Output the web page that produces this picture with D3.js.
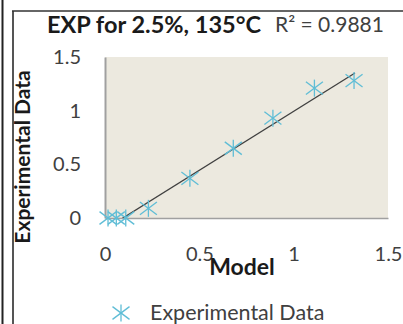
<!DOCTYPE html>
<html><head><meta charset="utf-8">
<script src="https://cdn.jsdelivr.net/npm/d3@7"></script>
<style>
html,body{margin:0;padding:0;background:#fff;}
svg{display:block;font-family:Lato,"Open Sans",sans-serif;}
</style></head>
<body>
<svg id="c" width="403" height="324"></svg>
<script>
const modelValues = [0.016, 0.06, 0.11, 0.23, 0.45, 0.68, 0.89, 1.11, 1.32];
const experimentalValues = [0.0, 0.0, 0.0, 0.09, 0.37, 0.65, 0.93, 1.21, 1.28];
const trendX = [0.016, 1.325];
const trendY = [-0.087, 1.351];
const xTicks = [0, 0.5, 1, 1.5];
const yTicks = [0, 0.5, 1, 1.5];
const titleText = "EXP for 2.5%, 135°C";
const r2Text = "R² = 0.9881";
const xTitle = "Model";
const yTitle = "Experimental Data";
const seriesName = "Experimental Data";

const svg = d3.select("#c");
const L = 105, R = 388, T = 57, B = 218;
const x = d3.scaleLinear().domain([0, 1.5]).range([L, R]);
const y = d3.scaleLinear().domain([0, 1.5]).range([B, T]);
const blue = "#5fbdd6";
const FF = "Lato, 'Open Sans', sans-serif";

// outer frame lines
svg.append("line").attr("x1",2.5).attr("x2",2.5).attr("y1",0).attr("y2",324).attr("stroke","#222").attr("stroke-width",2);
svg.append("line").attr("x1",13).attr("x2",13).attr("y1",11).attr("y2",324).attr("stroke","#555").attr("stroke-width",2);
svg.append("line").attr("x1",12).attr("x2",403).attr("y1",11).attr("y2",11).attr("stroke","#333").attr("stroke-width",1.5);

// plot area
svg.append("rect").attr("x",L).attr("y",T).attr("width",R-L).attr("height",B-T).attr("fill","#ece9df");
svg.append("defs").append("clipPath").attr("id","clip").append("rect").attr("x",L).attr("y",T).attr("width",R-L).attr("height",B-T);

// axes
const xAxis = d3.axisBottom(x).tickValues(xTicks).tickSize(0).tickPadding(29).tickFormat(d3.format("~g"));
const gx = svg.append("g").attr("transform",`translate(0,${B})`).call(xAxis);
gx.attr("font-size",null).attr("font-family",null);
gx.select(".domain").attr("stroke","#a0a0a0").attr("stroke-width",1.5);
gx.selectAll("text").style("font-size","20px").style("font-family",FF).attr("fill","#404040");

const yAxis = d3.axisLeft(y).tickValues(yTicks).tickSize(0).tickPadding(24).tickFormat(d3.format("~g"));
const gy = svg.append("g").attr("transform",`translate(${L},0)`).call(yAxis);
gy.attr("font-size",null).attr("font-family",null);
gy.select(".domain").attr("stroke","#a0a0a0").attr("stroke-width",2);
gy.selectAll("text").style("font-size","20px").style("font-family",FF).attr("fill","#404040");

// trendline
svg.append("line").attr("clip-path","url(#clip)")
  .attr("x1",x(trendX[0])).attr("y1",y(trendY[0]))
  .attr("x2",x(trendX[1])).attr("y2",y(trendY[1]))
  .attr("stroke","#404040").attr("stroke-width",1.3);

// markers
function star(g, cx, cy, s){
  const p = g.append("g").attr("transform",`translate(${cx},${cy})`)
    .attr("stroke",blue).attr("stroke-width",1.3).attr("fill","none");
  p.append("line").attr("x1",-s).attr("y1",-s*0.75).attr("x2",s).attr("y2",s*0.75);
  p.append("line").attr("x1",-s).attr("y1",s*0.75).attr("x2",s).attr("y2",-s*0.75);
  p.append("line").attr("x1",0).attr("y1",-s).attr("x2",0).attr("y2",s);
}
const mg = svg.append("g");
modelValues.forEach((m,i)=> star(mg, x(m), y(experimentalValues[i]), 8.5));

// titles
svg.append("text").attr("x",47).attr("y",33).style("font-size","23.5px").style("font-weight","bold").style("font-family",FF).attr("fill","#1a1a1a").text(titleText);
svg.append("text").attr("x",275).attr("y",32).style("font-size","21px").style("font-family",FF).attr("fill","#404040").text(r2Text);
svg.append("text").attr("x",242).attr("y",275).attr("text-anchor","middle").style("font-size","23px").style("font-weight","bold").style("font-family",FF).attr("fill","#1a1a1a").text(xTitle);
svg.append("text").attr("transform","translate(30,157) rotate(-90)").attr("text-anchor","middle").style("font-size","21px").style("font-weight","bold").style("font-family",FF).attr("fill","#1a1a1a").text(yTitle);

// legend
star(svg, 121, 313, 8.5);
svg.append("text").attr("x",150).attr("y",320).style("font-size","21.5px").style("font-family",FF).attr("fill","#404040").text(seriesName);
</script>
</body></html>
